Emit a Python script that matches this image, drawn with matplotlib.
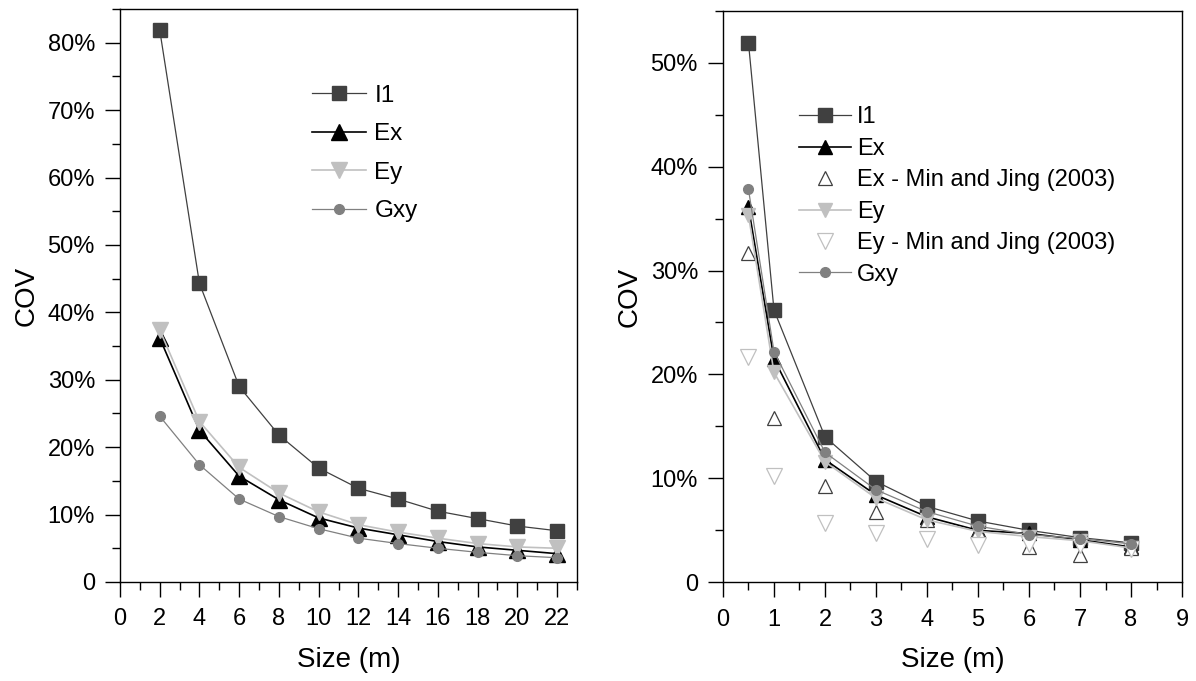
import matplotlib
matplotlib.use('Agg')
import matplotlib.pyplot as plt
from matplotlib.ticker import FuncFormatter, MultipleLocator

plt.rcParams['font.family'] = ['Liberation Sans', 'DejaVu Sans']

##################
# data (COV in %)
##################
size_left = [2, 4, 6, 8, 10, 12, 14, 16, 18, 20, 22]
i1_left = [81.9, 44.3, 29.0, 21.8, 16.9, 13.9, 12.3, 10.5, 9.4, 8.3, 7.6]
ex_left = [36.2, 22.5, 15.7, 12.2, 9.5, 8.0, 7.0, 6.0, 5.2, 4.7, 4.2]
ey_left = [37.4, 23.8, 17.0, 13.2, 10.4, 8.5, 7.4, 6.5, 5.7, 5.2, 5.0]
gxy_left = [24.6, 17.4, 12.3, 9.7, 7.9, 6.5, 5.7, 5.0, 4.4, 3.9, 3.6]

size_right = [0.5, 1, 2, 3, 4, 5, 6, 7, 8]
i1_right = [51.9, 26.2, 14.0, 9.7, 7.3, 5.9, 5.0, 4.3, 3.8]
ex_right = [36.1, 21.5, 11.8, 8.4, 6.3, 5.0, 4.7, 4.1, 3.4]
ex_min_jing = [31.7, 15.8, 9.3, 6.8, 6.0, 4.9, 3.4, 2.6, 3.3]
ey_right = [35.3, 20.2, 11.6, 8.1, 6.0, 4.9, 4.4, 4.0, 3.3]
ey_min_jing = [21.7, 10.2, 5.7, 4.7, 4.2, 3.6, 3.7, 3.6, 3.2]
gxy_right = [37.8, 22.2, 12.5, 8.9, 6.8, 5.4, 4.6, 4.2, 3.7]

DARK = '#404040'
MID = '#808080'
LIGHT = '#c0c0c0'


def pct(v, pos):
    return '0' if abs(v) < 1e-9 else '%d%%' % round(v)


def style_axes(ax, xmax, xmajor, ymax):
    ax.set_xlim(0, xmax)
    ax.set_ylim(0, ymax)
    ax.xaxis.set_major_locator(MultipleLocator(xmajor))
    ax.xaxis.set_minor_locator(MultipleLocator(xmajor / 2))
    ax.yaxis.set_major_locator(MultipleLocator(10))
    ax.yaxis.set_minor_locator(MultipleLocator(5))
    ax.yaxis.set_major_formatter(FuncFormatter(pct))
    ax.tick_params(which='major', direction='out', length=11, width=1, labelsize=17)
    ax.tick_params(which='minor', direction='out', length=6, width=1)
    ax.tick_params(axis='x', which='major', pad=8)
    ax.tick_params(axis='y', which='major', pad=7)
    ax.set_xlabel('Size (m)', fontsize=20, labelpad=12)
    ax.set_ylabel('COV', fontsize=20, labelpad=6)
    for sp in ax.spines.values():
        sp.set_linewidth(1)


fig = plt.figure(figsize=(11.96, 6.81), dpi=100)

# left panel
ax1 = fig.add_axes([0.1003, 0.1454, 0.3821, 0.8414])
ax1.plot(size_left, i1_left, '-s', color=DARK, lw=0.9, ms=10, label='I1')
ax1.plot(size_left, ex_left, '-^', color='black', lw=1.2, ms=11, label='Ex')
ax1.plot(size_left, ey_left, '-v', color=LIGHT, lw=1.2, ms=11, label='Ey')
ax1.plot(size_left, gxy_left, '-o', color=MID, lw=0.9, ms=7, label='Gxy')
style_axes(ax1, 23, 2, 85)
ax1.legend(loc='upper left', bbox_to_anchor=(0.4, 0.885), frameon=False, fontsize=17.5,
           handlelength=2.2, labelspacing=0.68, handletextpad=0.35, borderaxespad=0)

# right panel
ax2 = fig.add_axes([0.6045, 0.1449, 0.3838, 0.8394])
ax2.plot(size_right, i1_right, '-s', color=DARK, lw=0.9, ms=9.5, label='I1')
ax2.plot(size_right, ex_right, '-^', color='black', lw=1.2, ms=9.5, label='Ex')
ax2.plot(size_right, ex_min_jing, '^', color=DARK, mfc='white', mew=0.9, ms=10, ls='none',
         label='Ex - Min and Jing (2003)')
ax2.plot(size_right, ey_right, '-v', color=LIGHT, lw=1.2, ms=10.5, label='Ey')
ax2.plot(size_right, ey_min_jing, 'v', color=LIGHT, mfc='white', mew=0.9, ms=12, ls='none',
         label='Ey - Min and Jing (2003)')
ax2.plot(size_right, gxy_right, '-o', color=MID, lw=0.9, ms=7, label='Gxy')
style_axes(ax2, 9, 1, 55)
ax2.legend(loc='upper left', bbox_to_anchor=(0.145, 0.849), frameon=False, fontsize=17,
           handlelength=2.2, labelspacing=0.4, handletextpad=0.25, borderaxespad=0)

fig.savefig('out.png', dpi=100)
